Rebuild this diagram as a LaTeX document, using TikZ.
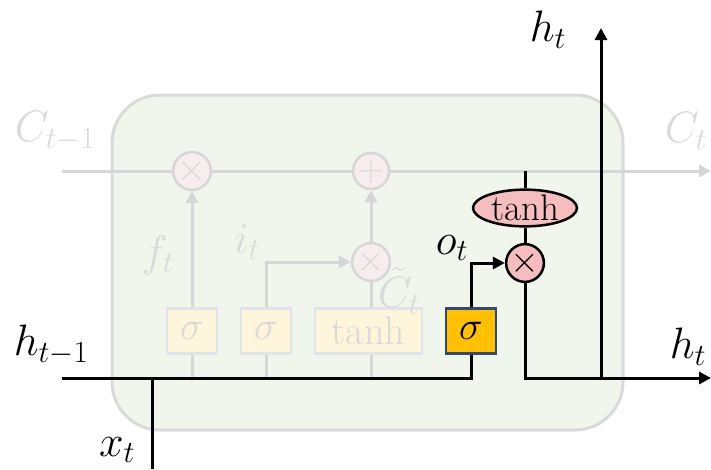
\RequirePackage{fix-cm}
\documentclass[tikz,border=0pt]{standalone}
\usetikzlibrary{arrows.meta,shapes.geometric}
\definecolor{cellfill}{HTML}{F1F6EC}
\definecolor{cellborder}{HTML}{DADADA}
\definecolor{fadeline}{HTML}{D6D6D6}
\definecolor{fadetext}{HTML}{D9D9D9}
\definecolor{fadeboxfill}{HTML}{FFF5DA}
\definecolor{fadeboxdraw}{HTML}{E0E3EA}
\definecolor{fadeopfill}{HTML}{F8EDEE}
\definecolor{opfill}{HTML}{F5BDBD}
\definecolor{gatefill}{HTML}{FFC000}
\definecolor{gatedraw}{HTML}{2F4A7A}
\tikzset{
  labelfont/.style={font=\fontsize{44}{52}\selectfont},
  gatefont/.style={font=\fontsize{40}{46}\selectfont},
  opfont/.style={font=\fontsize{37}{42}\selectfont},
  fadegate/.style={draw=fadeboxdraw, fill=fadeboxfill, line width=2.5pt, minimum height=45pt, inner sep=0pt, text=fadetext, gatefont},
  outgate/.style={draw=gatedraw, fill=gatefill, line width=2.5pt, minimum width=50pt, minimum height=45pt, inner sep=0pt, gatefont},
  fadeop/.style={circle, draw=fadeline, fill=fadeopfill, line width=2.5pt, minimum size=36pt, inner sep=0pt, text=fadetext, opfont},
  outop/.style={circle, draw=black, fill=opfill, line width=2.5pt, minimum size=36pt, inner sep=0pt, opfont},
  outact/.style={ellipse, draw=black, fill=opfill, line width=2.5pt, minimum width=104pt, minimum height=32pt, inner sep=0pt, opfont},
  fadewire/.style={draw=fadeline, line width=3pt},
  wire/.style={draw=black, line width=3pt},
  tip/.style={-{Triangle[length=12pt,width=12pt]}},
  fadelabel/.style={text=fadetext, labelfont, inner sep=0pt},
  label/.style={text=black, labelfont, inner sep=0pt},
}
\begin{document}
\begin{tikzpicture}[x=1pt,y=-1pt]
\useasboundingbox (0,0) rectangle (711,469);
% cell body
\draw[draw=cellborder, fill=cellfill, line width=3pt, rounded corners=48pt] (112,95) rectangle (623,430);

% coordinates
\coordinate (cin) at (62,171);
\coordinate (cout) at (711,171);
\coordinate (hin) at (62,378);
\coordinate (xin) at (152,469);
\coordinate (xj) at (152,378);
\coordinate (hout) at (711,378);
\coordinate (hj) at (601,378);
\coordinate (htop) at (601,28);
\coordinate (ctap) at (525,171);
\coordinate (fj) at (192,378);
\coordinate (ij) at (266,378);
\coordinate (tj) at (371,378);

% faded nodes
\node[fadeop] (fx) at (192,171) {$\times$};
\node[fadeop] (ad) at (371,171) {$+$};
\node[fadeop] (ix) at (371,262) {$\times$};
\node[fadegate, minimum width=50pt] (fg) at (192,331) {$\sigma$};
\node[fadegate, minimum width=50pt] (ig) at (266,331) {$\sigma$};
\node[fadegate, minimum width=107pt] (tg) at (368.5,331) {tanh};

% faded wires
\draw[fadewire] (cin) -- (fx.west);
\draw[fadewire] (fx.east) -- (ad.west);
\draw[fadewire, tip] (ad.east) -- (cout);
\draw[fadewire, tip] (fg.north) -- (fx.south);
\draw[fadewire] (fg.south) -- (fj);
\draw[fadewire, tip] (ig.north) |- (ix.west);
\draw[fadewire] (ig.south) -- (ij);
\draw[fadewire] (tg.north -| ix.south) -- (ix.south);
\draw[fadewire, tip] (ix.north) -- (ad.south);
\draw[fadewire] (tg.south -| tj) -- (tj);

% output path nodes
\node[outgate] (og) at (471,331) {$\sigma$};
\node[outop] (mo) at (525,263) {$\times$};
\node[outact] (ta) at (525,208) {tanh};

% black wires
\draw[wire] (hin) -| (og.south);
\draw[wire] (xin) -- (xj);
\draw[wire, tip] (og.north) |- (mo.west);
\draw[wire] (ctap) -- (ta.north);
\draw[wire] (ta.south) -- (mo.north);
\draw[wire, tip] (mo.south) |- (hout);
\draw[wire, tip] (hj) -- (htop);

% labels
\node[fadelabel] (lcin) at (55,131) {$C_{t-1}$};
\node[fadelabel] (lcout) at (686,131) {$C_t$};
\node[fadelabel] (lf) at (158,255) {$f_t$};
\node[fadelabel] (li) at (247,242) {$i_t$};
\node[fadelabel] (lct) at (399,291) {$\tilde{C}_t$};
\node[label] (lhin) at (51,345) {$h_{t-1}$};
\node[label] (lx) at (117,450) {$x_t$};
\node[label] (lhout) at (688,347) {$h_t$};
\node[label] (lhtop) at (548,30) {$h_t$};
\node[label] (lo) at (452,248) {$o_t$};
\end{tikzpicture}
\end{document}
